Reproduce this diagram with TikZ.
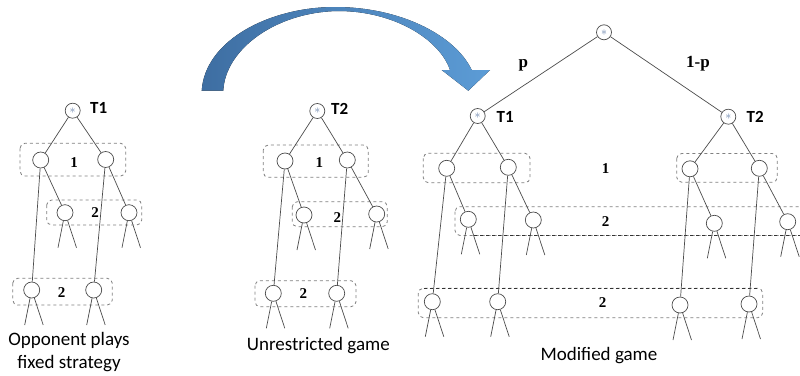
\documentclass[tikz,border=0pt]{standalone}
\usepackage{fontspec}
\setmainfont{Liberation Serif}
\newfontfamily\lblfont{Carlito}
\usetikzlibrary{calc}
\definecolor{edgecol}{rgb}{0.30,0.30,0.30}
\definecolor{boxcol}{rgb}{0.50,0.50,0.50}
\definecolor{starcol}{rgb}{0.42,0.52,0.68}
\definecolor{arrdark}{RGB}{62,110,162}
\definecolor{arrlight}{RGB}{92,156,214}
\tikzset{
  pnode/.style={circle, draw=edgecol, line width=0.7pt, fill=white, minimum size=16pt, inner sep=0pt},
  snode/.style={circle, draw=edgecol, line width=0.7pt, fill=white, minimum size=15pt, inner sep=0pt,
    font=\fontsize{12}{12}\selectfont\color{starcol}},
  tedge/.style={draw=edgecol, line width=0.7pt},
  infobox/.style={draw=boxcol, dashed, line width=0.8pt, rounded corners=5pt},
  darkdash/.style={draw=black!80, dashed, line width=0.8pt},
  tlabel/.style={font=\lblfont\bfseries\fontsize{17}{17}\selectfont, anchor=west, inner sep=0pt},
  plabel/.style={font=\bfseries\fontsize{15}{15}\selectfont, inner sep=0pt},
  problabel/.style={font=\bfseries\fontsize{17}{17}\selectfont, inner sep=0pt},
  caption/.style={font=\lblfont\fontsize{19}{23}\selectfont, inner sep=0pt, align=center},
}
\newcommand{\legs}[1]{\draw[tedge] (#1) -- ++(-7,35); \draw[tedge] (#1) -- ++(11.5,35);}
\begin{document}
\begin{tikzpicture}[x=1pt,y=-1pt]
\useasboundingbox (0,0) rectangle (800,375);
\clip (0,0) rectangle (800,375);
\fill[white] (0,0) rectangle (800,375);

% ---------- curved arrow ----------
\fill[left color=arrdark, right color=arrlight]
  (201.7,90.7) .. controls (205,40) and (270,7) .. (335,7)
  .. controls (400,7) and (455,35) .. (471.7,70)
  -- (490,70) -- (468.3,90.7) -- (441.7,70) -- (450,70)
  .. controls (440,40) and (395,11) .. (338,11)
  .. controls (275,12) and (225,50) .. (223.3,90.7) -- cycle;

% ---------- left tree ----------
\draw[infobox] (20,143.3) rectangle (125.7,176);
\draw[infobox] (46.7,200) rectangle (141.7,225);
\draw[infobox] (12.7,278.3) rectangle (112.3,305);
\node[snode] (A0) at (72.7,110.7) {$\ast$};
\node[tlabel] (A0l) at (90,108) {T1};
\node[pnode] (A1) at (40.7,160) {};
\node[pnode] (A2) at (105.7,159.5) {};
\node[pnode] (A3) at (65,212.7) {};
\node[pnode] (A4) at (129,212.7) {};
\node[pnode] (A5) at (31.7,290) {};
\node[pnode] (A6) at (93.7,290) {};
\node[plabel] (Ab1) at (74,162.7) {1};
\node[plabel] (Ab2) at (95,213) {2};
\node[plabel] (Ab3) at (61.7,292.7) {2};
\draw[tedge] (A0) -- (A1); \draw[tedge] (A0) -- (A2);
\draw[tedge] (A1) -- (A3); \draw[tedge] (A1) -- (A5);
\draw[tedge] (A2) -- (A4); \draw[tedge] (A2) -- (A6);
\legs{A3}\legs{A4}\legs{A5}\legs{A6}
\node[caption] (Acap) at (69,352) {Opponent plays\\fixed strategy};

% ---------- middle tree ----------
\draw[infobox] (263.3,145) rectangle (368.3,177.3);
\draw[infobox] (292.3,201.7) rectangle (387.3,226.7);
\draw[infobox] (255,280.7) rectangle (356,306.7);
\node[snode] (B0) at (317.3,111) {$\ast$};
\node[tlabel] (B0l) at (331,109) {T2};
\node[pnode] (B1) at (285,161) {};
\node[pnode] (B2) at (347.3,160) {};
\node[pnode] (B3) at (304,215) {};
\node[pnode] (B4) at (376.7,214) {};
\node[pnode] (B5) at (273.3,293.3) {};
\node[pnode] (B6) at (336.7,293.3) {};
\node[plabel] (Bb1) at (319.3,162.7) {1};
\node[plabel] (Bb2) at (337.3,217.7) {2};
\node[plabel] (Bb3) at (303.3,294) {2};
\draw[tedge] (B0) -- (B1); \draw[tedge] (B0) -- (B2);
\draw[tedge] (B1) -- (B3); \draw[tedge] (B1) -- (B5);
\draw[tedge] (B2) -- (B4); \draw[tedge] (B2) -- (B6);
\legs{B3}\legs{B4}\legs{B5}\legs{B6}
\node[caption] (Bcap) at (318.3,346) {Unrestricted game};

% ---------- right tree ----------
\draw[infobox] (423.3,153.3) rectangle (530,182.7);
\draw[infobox] (676.7,153.5) rectangle (777.3,182.2);
\draw[infobox] (455,206.7) rectangle (808,235.5);
\draw[infobox] (418.3,288.3) rectangle (762.7,317.7);
\draw[darkdash] (474,235.5) -- (800,235.5);
\draw[darkdash] (423.5,288.3) -- (757.5,288.3);
\node[snode] (R) at (604,32.3) {$\ast$};
\node[snode] (C0) at (477.7,116) {$\ast$};
\node[tlabel] (C0l) at (496.5,116.7) {T1};
\node[snode] (D0) at (728.3,116.7) {$\ast$};
\node[tlabel] (D0l) at (746.5,116.7) {T2};
\node[problabel] (pl) at (523.3,65.5) {p};
\node[problabel] (ql) at (698,64) {1-p};
\node[pnode] (C1) at (446.7,168.3) {};
\node[pnode] (C2) at (508.3,167.3) {};
\node[pnode] (D1) at (690,168.8) {};
\node[pnode] (D2) at (759.3,168.3) {};
\node[pnode] (C3) at (468.3,219.3) {};
\node[pnode] (C4) at (533.3,220) {};
\node[pnode] (D3) at (714.3,223.3) {};
\node[pnode] (D4) at (787.7,221.7) {};
\node[pnode] (C5) at (432.3,301.7) {};
\node[pnode] (C6) at (497.7,301.7) {};
\node[pnode] (D5) at (680,305) {};
\node[pnode] (D6) at (749,304) {};
\node[plabel] (Cb1) at (605.7,168.3) {1};
\node[plabel] (Cb2) at (605.7,221.7) {2};
\node[plabel] (Cb3) at (602.7,302.7) {2};
\draw[tedge] (R) -- (C0); \draw[tedge] (R) -- (D0);
\draw[tedge] (C0) -- (C1); \draw[tedge] (C0) -- (C2);
\draw[tedge] (D0) -- (D1); \draw[tedge] (D0) -- (D2);
\draw[tedge] (C1) -- (C3); \draw[tedge] (C1) -- (C5);
\draw[tedge] (C2) -- (C4); \draw[tedge] (C2) -- (C6);
\draw[tedge] (D1) -- (D3); \draw[tedge] (D1) -- (D5);
\draw[tedge] (D2) -- (D4); \draw[tedge] (D2) -- (D6);
\legs{C3}\legs{C4}\legs{C5}\legs{C6}
\legs{D3}\legs{D4}\legs{D5}\legs{D6}
\node[caption] (Ccap) at (599,356) {Modified game};
\end{tikzpicture}
\end{document}
